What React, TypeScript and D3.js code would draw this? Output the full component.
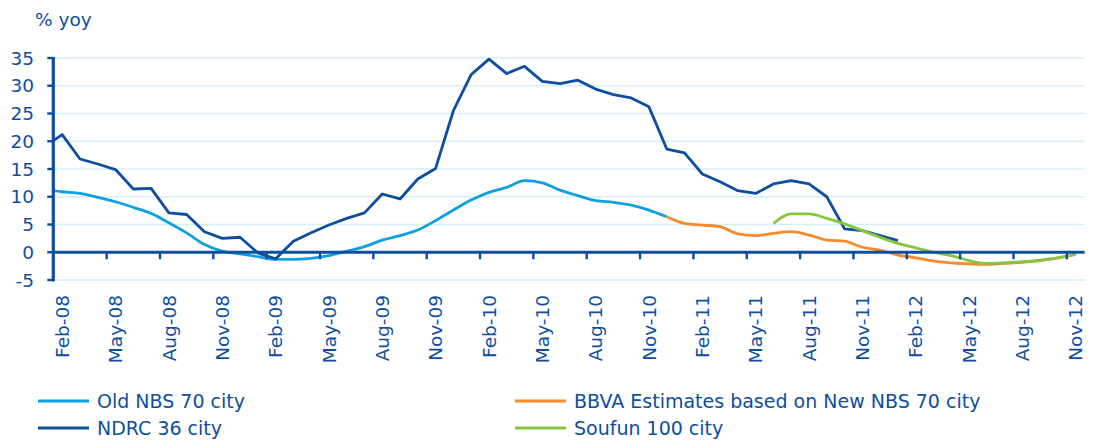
import React from 'react';
import * as d3 from 'd3';

// month labels for the category axis (first = Feb-08, every month to Nov-12)
const monthNames = ['Jan', 'Feb', 'Mar', 'Apr', 'May', 'Jun', 'Jul', 'Aug', 'Sep', 'Oct', 'Nov', 'Dec'];
const firstMonth = { year: 2008, month: 1 }; // Feb-08
const monthCount = 58; // Feb-08 .. Nov-12
const tickEvery = 3;

// series values (% yoy), each with the index of its first month (0 = Feb-08, -1 = Jan-08)
const oldNbsStart = -1;
const oldNbs = [11.3, 10.9, 10.6, 9.9, 9.1, 8.1, 7.0, 5.3, 3.5, 1.4, 0.2, -0.3, -0.8, -1.3, -1.3, -1.1, -0.6, 0.2, 1.0, 2.2, 3.0, 4.0, 5.7, 7.6, 9.4, 10.8, 11.7, 12.9, 12.5, 11.2, 10.2, 9.3, 9.0, 8.5, 7.6, 6.4];

const ndrcStart = -1;
const ndrc = [19.0, 21.2, 16.8, 15.9, 14.9, 11.4, 11.5, 7.1, 6.8, 3.7, 2.5, 2.7, -0.1, -1.2, 2.0, 3.5, 4.9, 6.1, 7.1, 10.5, 9.6, 13.2, 15.1, 25.5, 32.0, 34.8, 32.2, 33.5, 30.8, 30.4, 31.0, 29.4, 28.4, 27.8, 26.2, 18.6, 17.9, 14.1, 12.7, 11.1, 10.6, 12.3, 12.9, 12.3, 10.0, 4.2, 3.9, 3.0, 2.1];

const bbvaStart = 34;
const bbva = [6.4, 5.2, 4.9, 4.6, 3.3, 3.0, 3.4, 3.7, 3.1, 2.2, 2.0, 0.9, 0.4, -0.5, -1.0, -1.6, -1.9, -2.1, -2.2, -2.0, -1.8, -1.5, -1.0, -0.4];

const soufunStart = 40;
const soufun = [5.2, 6.9, 6.9, 6.1, 5.1, 3.9, 2.7, 1.6, 0.8, 0.0, -0.6, -1.5, -2.0, -1.9, -1.7, -1.4, -1.0, -0.4];

const yTicks = [-5, 0, 5, 10, 15, 20, 25, 30, 35];

const DARK = '#0F4E9F';
const LIGHT = '#0FA0E2';
const ORANGE = '#F68B2C';
const GREEN = '#87C540';
const GRID = '#D6EEF8';
const FONT = '"DejaVu Sans", Verdana, sans-serif';

const legendItems = [
  { name: 'Old NBS 70 city', color: LIGHT, col: 0, row: 0 },
  { name: 'BBVA Estimates based on New NBS 70 city', color: ORANGE, col: 1, row: 0 },
  { name: 'NDRC 36 city', color: DARK, col: 0, row: 1 },
  { name: 'Soufun 100 city', color: GREEN, col: 1, row: 1 },
];

const monthLabel = (i: number) => {
  const m = firstMonth.month + i;
  const y = firstMonth.year + Math.floor(m / 12);
  return `${monthNames[m % 12]}-${String(y % 100).padStart(2, '0')}`;
};

type Pt = { i: number; v: number };

const App: React.FC = () => {
  const width = 1093;
  const height = 441;
  const left = 53.3;
  const right = 1084.6;

  const x = d3.scaleLinear().domain([0, monthCount]).range([left, right]);
  const y = d3.scaleLinear().domain([-5, 35]).range([280, 58]);

  const toPoints = (vals: number[], start: number): Pt[] =>
    vals.map((v, k) => ({ i: start + k, v }));

  const straight = d3
    .line<Pt>()
    .x((d) => x(d.i + 0.5))
    .y((d) => y(d.v));
  const smooth = d3
    .line<Pt>()
    .x((d) => x(d.i + 0.5))
    .y((d) => y(d.v))
    .curve(d3.curveMonotoneX);

  const series = [
    { pts: toPoints(oldNbs, oldNbsStart), color: LIGHT, gen: smooth },
    { pts: toPoints(ndrc, ndrcStart), color: DARK, gen: straight },
    { pts: toPoints(bbva, bbvaStart), color: ORANGE, gen: smooth },
    { pts: toPoints(soufun, soufunStart), color: GREEN, gen: smooth },
  ];

  const tickIdx = d3.range(0, monthCount, tickEvery);

  return (
    <svg
      width={width}
      height={height}
      style={{ position: 'absolute', left: 0, top: 0, background: '#fff' }}
      fontFamily={FONT}
    >
      <defs>
        <clipPath id="plot">
          <rect x={left} y={0} width={right - left} height={300} />
        </clipPath>
      </defs>

      <text x={35} y={26} fontSize={18.5} fill={DARK}>% yoy</text>

      {/* grid */}
      {yTicks.filter((t) => t !== 0).map((t) => (
        <line key={t} x1={left} x2={right} y1={y(t)} y2={y(t)} stroke={GRID} strokeWidth={1.6} />
      ))}

      {/* y tick labels */}
      {yTicks.map((t) => (
        <text key={t} x={34} y={y(t)} dy="0.36em" textAnchor="end" fontSize={18.5} fill={DARK}>
          {t}
        </text>
      ))}

      {/* series */}
      <g clipPath="url(#plot)">
        {series.map((s, k) => (
          <path
            key={k}
            d={s.gen(s.pts) || ''}
            fill="none"
            stroke={s.color}
            strokeWidth={2.8}
            strokeLinejoin="round"
          />
        ))}
      </g>

      {/* x axis at zero */}
      <line x1={left} x2={right} y1={y(0)} y2={y(0)} stroke={DARK} strokeWidth={3.2} />
      {tickIdx.filter((i) => i > 0).map((i) => (
        <line key={i} x1={x(i)} x2={x(i)} y1={y(0)} y2={y(0) + 7} stroke={DARK} strokeWidth={2.4} />
      ))}

      {/* y axis */}
      <line x1={left} x2={left} y1={y(35) - 1} y2={y(-5) + 1.5} stroke={DARK} strokeWidth={3.2} />
      {yTicks.map((t) => (
        <line key={t} x1={left - 6} x2={left} y1={y(t)} y2={y(t)} stroke={DARK} strokeWidth={2.4} />
      ))}

      {/* x tick labels */}
      {tickIdx.map((i) => (
        <text
          key={i}
          transform={`translate(${x(i + 0.5)},295) rotate(-90)`}
          dy="0.36em"
          textAnchor="end"
          fontSize={18.5}
          fill={DARK}
        >
          {monthLabel(i)}
        </text>
      ))}

      {/* legend */}
      {legendItems.map((it) => {
        const lx = it.col === 0 ? 38 : 515;
        const ly = it.row === 0 ? 401 : 428;
        return (
          <g key={it.name}>
            <line x1={lx} x2={lx + 51} y1={ly} y2={ly} stroke={it.color} strokeWidth={2.8} />
            <text x={lx + 59} y={ly} dy="0.36em" fontSize={19} fill={DARK}>
              {it.name}
            </text>
          </g>
        );
      })}
    </svg>
  );
};

export default App;
